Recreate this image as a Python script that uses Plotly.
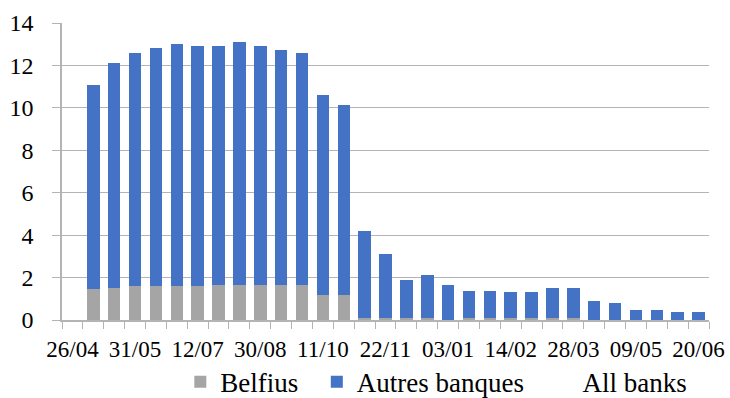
import plotly.graph_objects as go

categories = ["26/04", "10/05", "17/05", "31/05", "14/06", "28/06", "12/07", "26/07",
              "16/08", "30/08", "13/09", "27/09", "11/10", "25/10", "08/11", "22/11",
              "06/12", "20/12", "03/01", "17/01", "31/01", "14/02", "28/02", "14/03",
              "28/03", "11/04", "25/04", "09/05", "23/05", "06/06", "20/06"]
shown_labels = ["26/04", "31/05", "12/07", "30/08", "11/10", "22/11", "03/01",
                "14/02", "28/03", "09/05", "20/06"]

all_banks = [None, 11.1, 12.1, 12.6, 12.8, 13.0, 12.9, 12.9, 13.1, 12.9, 12.75, 12.6,
             10.6, 10.15, 4.2, 3.1, 1.9, 2.1, 1.65, 1.38, 1.38, 1.3, 1.3, 1.52, 1.52,
             0.88, 0.8, 0.45, 0.45, 0.37, 0.37]
belfius = [None, 1.45, 1.52, 1.6, 1.6, 1.6, 1.6, 1.67, 1.67, 1.67, 1.67, 1.67,
           1.17, 1.17, 0.08, 0.08, 0.08, 0.08, 0.0, 0.08, 0.08, 0.08, 0.08, 0.08, 0.08,
           0.0, 0.0, 0.0, 0.0, 0.0, 0.0]
autres = [None if t is None else round(t - b, 3) for t, b in zip(all_banks, belfius)]

FONT = "Times New Roman, Liberation Serif, serif"
GRID = "#B4B4B4"
PAD = "\u00a0\u00a0"

fig = go.Figure()
fig.add_trace(go.Bar(x=categories, y=belfius, name="Belfius" + PAD,
                     marker=dict(color="#A5A5A5", line=dict(width=0))))
fig.add_trace(go.Bar(x=categories, y=autres, name="Autres banques" + PAD,
                     marker=dict(color="#4472C4", line=dict(width=0))))
fig.add_trace(go.Scatter(x=categories, y=all_banks, name="All banks", mode="lines",
                         line=dict(color="rgba(0,0,0,0)", width=0)))

ticktext = [c if c in shown_labels else "" for c in categories]

fig.update_layout(
    width=730, height=398,
    barmode="stack", bargap=0.4,
    plot_bgcolor="white", paper_bgcolor="white",
    margin=dict(l=62, r=21, t=23, b=78, autoexpand=False),
    font=dict(family=FONT, color="black", size=23),
    showlegend=True,
    legend=dict(orientation="h", xref="container", yref="container",
                x=0.247, y=0.04, xanchor="left", yanchor="middle",
                traceorder="normal",
                font=dict(family=FONT, size=27), itemwidth=30,
                bgcolor="rgba(0,0,0,0)"),
)
fig.update_xaxes(type="category", categoryorder="array", categoryarray=categories,
                 tickmode="array", tickvals=categories, ticktext=ticktext,
                 tickson="boundaries", ticks="outside", ticklen=7, tickcolor=GRID,
                 showgrid=False, showline=True, linecolor=GRID, linewidth=1.5,
                 range=[-0.5, 30.5], tickangle=0, ticklabelstandoff=8,
                 tickfont=dict(family=FONT, size=23))
fig.update_yaxes(range=[0, 14], dtick=2, tick0=0, ticks="outside", ticklen=8,
                 tickcolor=GRID, showgrid=True, gridcolor=GRID, gridwidth=1.3,
                 showline=True, linecolor=GRID, linewidth=1.5, zeroline=False,
                 ticklabelstandoff=14, tickfont=dict(family=FONT, size=24))

fig.write_html("out.html", config={"displayModeBar": False},
               post_script="document.body.style.margin='0';")
